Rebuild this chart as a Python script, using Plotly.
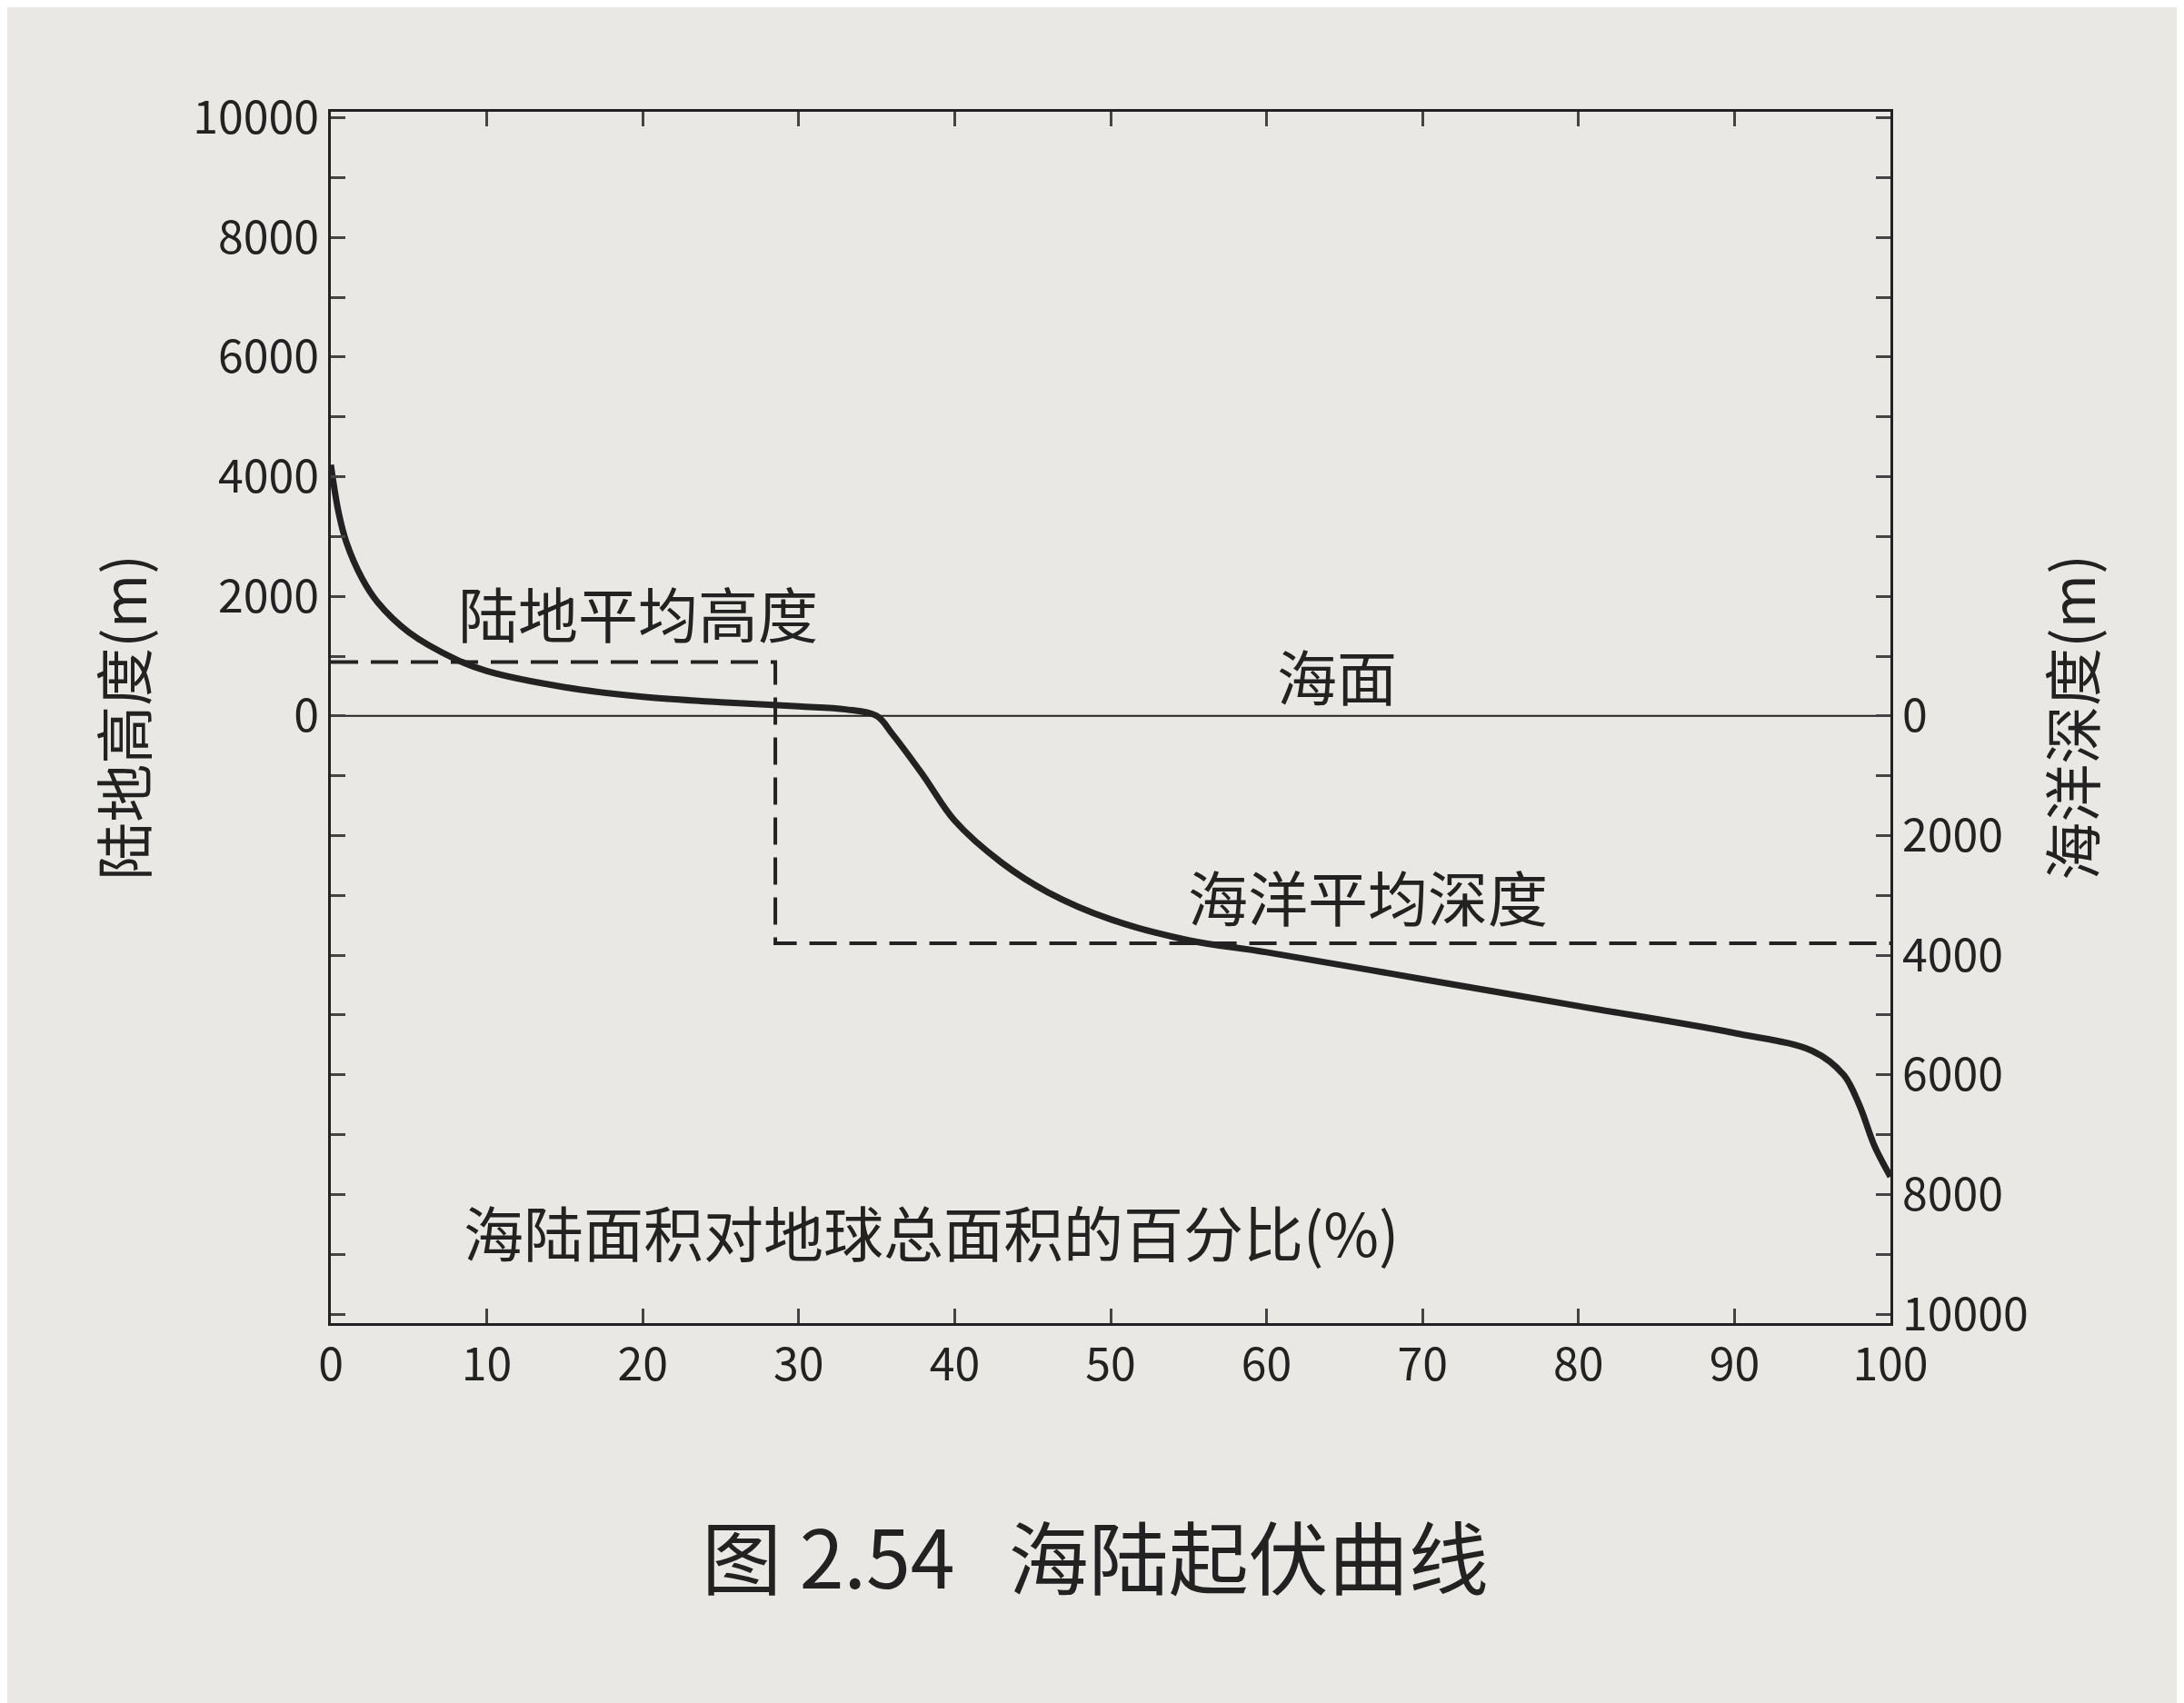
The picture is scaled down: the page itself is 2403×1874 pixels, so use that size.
import plotly.graph_objects as go

pct = [0, 0.5, 1, 2, 3, 5, 8, 10, 15, 20, 25, 30, 33, 35, 36, 38, 40, 43, 46, 50, 55, 60, 70, 80, 90, 95, 97, 98, 99, 100]
elev = [4200, 3400, 2900, 2300, 1900, 1400, 950, 750, 480, 320, 230, 160, 110, 0, -300, -1000, -1750, -2450, -2950, -3400, -3750, -3950, -4400, -4850, -5300, -5600, -6000, -6500, -7200, -7700]
mean_x = [0, 28.5, 28.5, 100]
mean_y = [900, 900, -3800, -3800]
left_ticks = [0, 2000, 4000, 6000, 8000, 10000]
right_ticks = [0, -2000, -4000, -6000, -8000, -10000]
x_ticks = [0, 10, 20, 30, 40, 50, 60, 70, 80, 90, 100]

F = "Noto Sans CJK SC"
fig = go.Figure()
fig.add_trace(go.Scatter(x=[0, 100], y=[0, 0], mode="lines", line=dict(color="#222", width=2), showlegend=False))
fig.add_trace(go.Scatter(x=mean_x, y=mean_y, mode="lines", line=dict(color="#222", width=4, dash="30px,14px"), showlegend=False))
fig.add_trace(go.Scatter(x=pct, y=elev, mode="lines", line=dict(color="#222", width=7, shape="spline"), showlegend=False))
fig.add_trace(go.Scatter(x=[0], y=[0], yaxis="y2", mode="markers", marker=dict(opacity=0), showlegend=False))

yr = [-10150, 10100]
fig.update_layout(
    width=2403, height=1874, paper_bgcolor="#e9e8e4", plot_bgcolor="rgba(0,0,0,0)",
    margin=dict(l=356, r=331, t=115, b=426),
    font=dict(family=F, color="#222", size=50),
    xaxis=dict(range=[0, 100], tickvals=x_ticks, ticks="inside", ticklen=16, tickwidth=3, showgrid=False,
               zeroline=False, showline=True, linewidth=3, linecolor="#222", mirror="ticks"),
    yaxis=dict(range=yr, tickvals=left_ticks, ticktext=[str(v) for v in left_ticks],
               ticks="inside", ticklen=16, tickwidth=3,
               minor=dict(dtick=1000, ticks="inside", ticklen=16, tickwidth=3, tick0=0),
               showgrid=False, zeroline=False, showline=True, linewidth=3, linecolor="#222",
               title=dict(text="陆地高度(m)", font=dict(size=64), standoff=30)),
    yaxis2=dict(range=yr, overlaying="y", side="right", tickvals=right_ticks,
                ticktext=[str(-v) for v in right_ticks], ticks="inside", ticklen=16, tickwidth=3,
                minor=dict(dtick=1000, ticks="inside", ticklen=16, tickwidth=3, tick0=0),
                showgrid=False, zeroline=False, showline=True, linewidth=3, linecolor="#222",
                title=dict(text="海洋深度(m)", font=dict(size=64), standoff=30)),
    annotations=[
        dict(x=19.7, y=1750, text="陆地平均高度", showarrow=False, font=dict(size=66)),
        dict(x=64.5, y=700, text="海面", showarrow=False, font=dict(size=66)),
        dict(x=66.5, y=-3000, text="海洋平均深度", showarrow=False, font=dict(size=66)),
        dict(x=38.5, y=-8600, text="海陆面积对地球总面积的百分比(%)", showarrow=False, font=dict(size=66)),
        dict(x=0.49, y=-0.19, xref="paper", yref="paper", xanchor="center", yanchor="middle",
             text="图 2.54   海陆起伏曲线", showarrow=False, font=dict(size=88)),
    ],
)
fig.write_html("out.html")
